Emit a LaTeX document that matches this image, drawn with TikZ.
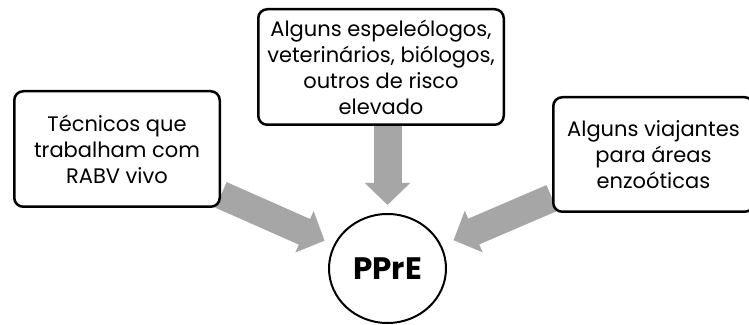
\documentclass[tikz,border=0pt]{standalone}
\usepackage{fontspec}
\setmainfont{Poppins}
\usetikzlibrary{arrows.meta,shapes.geometric,backgrounds}
\definecolor{arrowgray}{HTML}{A6A6A6}
\tikzset{
  box/.style={draw=black, line width=2.5pt, rounded corners=9pt, fill=white,
    align=center, font=\fontsize{21}{26}\selectfont, inner sep=0pt},
  target/.style={draw=black, line width=2pt, ellipse, fill=white, inner sep=0pt,
    minimum width=117pt, minimum height=109pt, font=\fontsize{31}{34}\selectfont\bfseries},
  bigarrow/.style={draw=arrowgray, line width=28pt,
    -{Triangle[width=44pt,length=22pt]}}
}
\begin{document}
\begin{tikzpicture}[x=1pt,y=1pt]
\useasboundingbox (0,0) rectangle (749,324);
\clip (0,0) rectangle (749,324);
\node[box, minimum width=205.5pt, minimum height=115.5pt] (left) at (117,175) {Técnicos que\\trabalham com\\RABV vivo};
\node[box, minimum width=245.5pt, minimum height=115.5pt] (top) at (381,257) {Alguns espeleólogos,\\veterinários, biólogos,\\outros de risco\\elevado};
\node[box, minimum width=200.5pt, minimum height=114.5pt] (right) at (653.5,169.5) {Alguns viajantes\\para áreas\\enzoóticas};
\node[target] (ppre) at (387.5,55.5) {PPrE};
\begin{scope}[on background layer]
  \draw[bigarrow, shorten >=10pt] (left) -- (ppre);
  \draw[bigarrow, shorten >=8pt] (ppre |- top.south) -- (ppre.north);
  \draw[bigarrow, shorten >=13pt] (right) -- (ppre);
\end{scope}
\end{tikzpicture}
\end{document}
